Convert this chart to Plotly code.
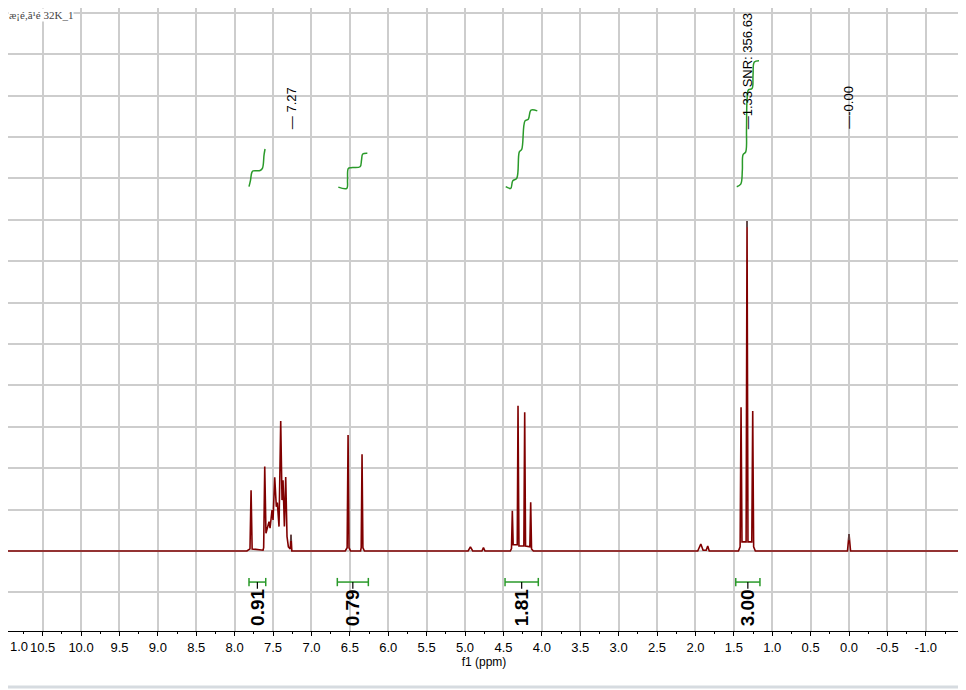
import plotly.graph_objects as go

# ---------------- data ----------------
# spectrum vertices: chemical shift (ppm) and intensity (grid units)
spec_ppm = [11.06, 7.84, 7.80, 7.786, 7.772, 7.63, 7.622, 7.608, 7.592, 7.552, 7.539, 7.513,
            7.500, 7.478, 7.457, 7.444, 7.422, 7.400, 7.383, 7.370, 7.352, 7.335, 7.318,
            7.300, 7.276, 7.266, 7.255, 6.56, 6.535, 6.523, 6.511, 6.49, 6.36, 6.352, 6.341,
            6.330, 6.31, 4.96, 4.93, 4.90, 4.78, 4.76, 4.74, 4.41, 4.395, 4.384, 4.373, 4.32,
            4.310, 4.298, 4.234, 4.223, 4.212, 4.156, 4.145, 4.134, 4.11, 1.97, 1.93, 1.90,
            1.86, 1.84, 1.82, 1.44, 1.418, 1.406, 1.394, 1.34, 1.328, 1.316, 1.266, 1.254,
            1.242, 1.22, 0.02, 0.0, -0.02, -1.45]
spec_int = [0.0, 0.0, 0.05, 1.47, 0.05, 0.02, 0.08, 2.04, 0.43, 0.71, 0.55, 0.99,
            0.75, 1.78, 1.07, 1.17, 0.59, 3.14, 1.23, 1.71, 0.59, 1.79, 0.35,
            0.10, 0.05, 0.39, 0.0, 0.0, 0.08, 2.80, 0.08, 0.0, 0.0, 0.08, 2.34,
            0.08, 0.0, 0.0, 0.10, 0.0, 0.0, 0.08, 0.0, 0.0, 0.06, 0.97, 0.15, 0.15,
            3.51, 0.12, 0.12, 3.35, 0.12, 0.10, 1.18, 0.05, 0.0, 0.0, 0.17, 0.02,
            0.02, 0.12, 0.0, 0.0, 0.10, 3.47, 0.22, 0.22, 7.97, 0.22, 0.22, 3.38,
            0.10, 0.0, 0.0, 0.41, 0.0, 0.0]

# integral curves (ppm, height in grid units)
int1_ppm = [7.813, 7.793, 7.777, 7.760, 7.669, 7.637, 7.617, 7.604]
int1_y = [8.80, 8.96, 9.14, 9.18, 9.19, 9.25, 9.57, 9.71]
int2_ppm = [6.650, 6.540, 6.530, 6.520, 6.484, 6.367, 6.348, 6.332, 6.272]
int2_y = [8.79, 8.76, 8.96, 9.24, 9.26, 9.28, 9.44, 9.59, 9.61]
int3_ppm = [4.470, 4.405, 4.379, 4.327, 4.293, 4.262, 4.219, 4.176, 4.141, 4.059]
int3_y = [8.80, 8.76, 8.94, 9.00, 9.64, 9.70, 10.39, 10.43, 10.65, 10.63]
int4_ppm = [1.462, 1.410, 1.389, 1.380, 1.345, 1.335, 1.328, 1.309, 1.263, 1.250, 1.233, 1.172]
int4_y = [8.80, 8.86, 9.20, 9.57, 9.64, 10.17, 10.89, 11.14, 11.17, 11.50, 11.81, 11.84]

# integration ranges and values
range_start = [7.813, 6.663, 4.479, 1.475]
range_end = [7.595, 6.259, 4.046, 1.160]
range_value = ["0.91", "0.79", "1.81", "3.00"]

# peak labels
label_ppm = [7.266, 1.328, 0.0]
label_height = [0.39, 7.97, 0.41]
label_text = ["— 7.27", "—1.33 SNR: 356.63", "—-0.00"]

tick_vals = [10.5, 10.0, 9.5, 9.0, 8.5, 8.0, 7.5, 7.0, 6.5, 6.0, 5.5, 5.0, 4.5, 4.0,
             3.5, 3.0, 2.5, 2.0, 1.5, 1.0, 0.5, 0.0, -0.5, -1.0]
tick_text = ["10.5", "10.0", "9.5", "9.0", "8.5", "8.0", "7.5", "7.0", "6.5", "6.0",
             "5.5", "5.0", "4.5", "4.0", "3.5", "3.0", "2.5", "2.0", "1.5", "1.0", "0.5",
             "0.0", "-0.5", "-1.0"]
edge_tick_val = 11.0
edge_tick_text = "1.0"

title_text = "æ¡é,ã¹é 32K_1"

# ---------------- styles ----------------
SPEC = "#800000"
GREEN = "#2a9a2a"
GRID = "#cdcdcd"
BRACKET_Y = -0.75
CAP = 0.1
X_RANGE = [10.951, -1.445]
Y_RANGE = [-1.932, 13.116]

fig = go.Figure()

fig.add_trace(go.Scatter(x=spec_ppm, y=spec_int, mode="lines",
                         line=dict(color=SPEC, width=1.6), hoverinfo="skip"))

for xs, ys in [(int1_ppm, int1_y), (int2_ppm, int2_y), (int3_ppm, int3_y), (int4_ppm, int4_y)]:
    fig.add_trace(go.Scatter(x=xs, y=ys, mode="lines", line=dict(color=GREEN, width=1.5),
                             line_shape="spline", hoverinfo="skip"))

# integration brackets
bx, by, cx, cy = [], [], [], []
for s, e in zip(range_start, range_end):
    bx += [s, s, None, s, e, None, e, e, None]
    by += [BRACKET_Y - CAP, BRACKET_Y + CAP, None, BRACKET_Y, BRACKET_Y, None,
           BRACKET_Y - CAP, BRACKET_Y + CAP, None]
    m = (s + e) / 2
    cx += [m, m, None]
    cy += [BRACKET_Y, BRACKET_Y - 0.16, None]
fig.add_trace(go.Scatter(x=bx, y=by, mode="lines", line=dict(color=GREEN, width=1.5),
                         hoverinfo="skip"))
fig.add_trace(go.Scatter(x=cx, y=cy, mode="lines", line=dict(color="black", width=1.2),
                         hoverinfo="skip"))

# peak pick markers
px_, py_ = [], []
for p, h in zip(label_ppm, label_height):
    px_ += [p, p, None]
    py_ += [h, h - 0.15, None]
fig.add_trace(go.Scatter(x=px_, y=py_, mode="lines", line=dict(color="#555555", width=1.5),
                         hoverinfo="skip"))

annotations = []
for s, e, v in zip(range_start, range_end, range_value):
    annotations.append(dict(x=(s + e) / 2, y=BRACKET_Y - 0.12, xref="x", yref="y",
                            text="<b>" + v + "</b>", showarrow=False, textangle=-90,
                            xanchor="center", yanchor="top",
                            font=dict(family="Arial, Liberation Sans", size=19, color="black")))
for p, t in zip(label_ppm, label_text):
    annotations.append(dict(x=p, y=10.14, xref="x", yref="y", text=t, showarrow=False,
                            textangle=-90, xanchor="center", yanchor="bottom",
                            font=dict(family="Arial, Liberation Sans", size=13, color="black")))
# partially visible tick label at the left edge, placed through the axis scale
edge_frac = (X_RANGE[0] - edge_tick_val) / (X_RANGE[0] - X_RANGE[1])
annotations.append(dict(x=max(edge_frac, 0), y=0, xref="paper", yref="paper",
                        text=edge_tick_text, showarrow=False, xanchor="left",
                        yanchor="top", yshift=-6,
                        font=dict(family="Arial, Liberation Sans", size=13, color="black")))
annotations.append(dict(x=0, y=1, xref="paper", yref="paper", text=title_text,
                        showarrow=False, xanchor="left", yanchor="top",
                        bgcolor="white", borderpad=0,
                        font=dict(family="Liberation Serif, DejaVu Serif, serif", size=11,
                                  color="#444444")))

fig.update_layout(
    width=966, height=690,
    margin=dict(l=0, r=14, t=0, b=67),
    paper_bgcolor="white", plot_bgcolor="white",
    showlegend=False,
    annotations=annotations,
    font=dict(family="Arial, Liberation Sans", size=13, color="black"),
    shapes=[dict(type="line", xref="paper", yref="paper", x0=-0.01, x1=1.02,
                 y0=-0.0899, y1=-0.0899, line=dict(color="#d6dbe0", width=3))],
)
fig.update_xaxes(
    range=X_RANGE, tickvals=tick_vals, ticktext=tick_text, automargin=False,
    showgrid=True, gridcolor=GRID, gridwidth=1.5,
    showline=True, linecolor="black", linewidth=1,
    ticks="outside", ticklen=4, tickcolor="black",
    minor=dict(dtick=0.25, tick0=0, ticks="outside", ticklen=2, tickcolor="black", showgrid=False),
    tickfont=dict(size=13, color="black"),
    title=dict(text="f1 (ppm)", font=dict(size=12, color="black"), standoff=0),
    zeroline=False,
)
fig.update_yaxes(
    range=Y_RANGE, dtick=1, tick0=0, automargin=False,
    showgrid=True, gridcolor=GRID, gridwidth=1.5,
    showticklabels=False, zeroline=False, showline=False,
)

fig.write_html("out.html")
